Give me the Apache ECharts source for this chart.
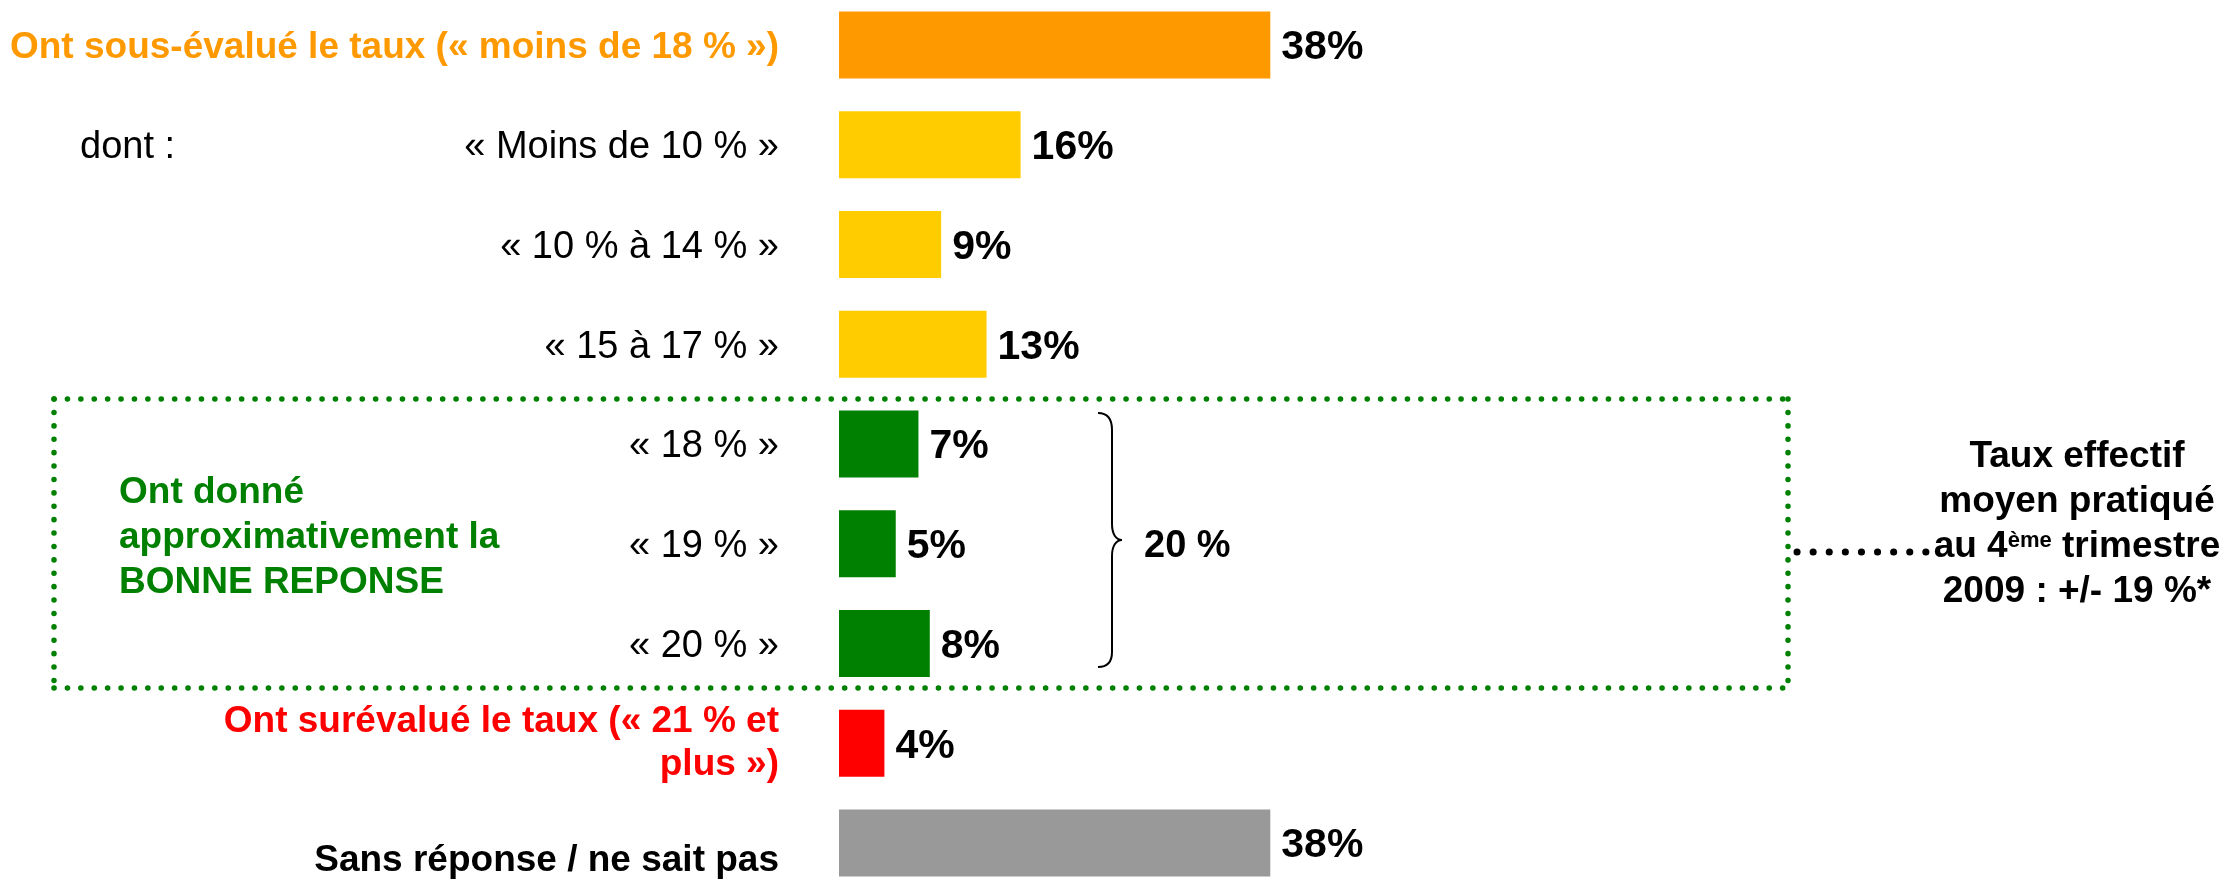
<!DOCTYPE html>
<html>
<head>
<meta charset="utf-8">
<script src="https://cdn.jsdelivr.net/npm/echarts@6/dist/echarts.min.js"></script>
<style>
  html, body { margin: 0; padding: 0; background: #fff; }
  #chart { width: 2230px; height: 879px; }
</style>
</head>
<body>
<div id="chart"></div>
<script>
// categories top -> bottom
const categories = [
  'Ont sous-évalué le taux (« moins de 18 % »)',
  '« Moins de 10 % »',
  '« 10 % à 14 % »',
  '« 15 à 17 % »',
  '« 18 % »',
  '« 19 % »',
  '« 20 % »',
  'Ont surévalué le taux (« 21 % et\nplus »)',
  'Sans réponse / ne sait pas'
];
const values = [38, 16, 9, 13, 7, 5, 8, 4, 38];
const barColors = ['#FF9900', '#FFCC00', '#FFCC00', '#FFCC00', '#008000', '#008000', '#008000', '#FF0000', '#999999'];
const labelKinds = ['orange', 'plain', 'plain', 'plain', 'plain', 'plain', 'plain', 'red', 'bold'];

const dontText = 'dont :';
const groupTitle = ['Ont donné', 'approximativement la', 'BONNE REPONSE'];
const groupTotal = '20 %';
const noteLines = ['Taux effectif', 'moyen pratiqué', ['au 4', 'ème', ' trimestre'], '2009 : +/- 19 %*'];

const FONT = '"Liberation Sans", Arial, sans-serif';
const FS = 37;
const GREEN = '#008000';

let chart = echarts.init(document.getElementById('chart'));

const rich = {
  orange: { color: '#FF9900', fontWeight: 'bold', fontSize: FS, fontFamily: FONT, align: 'right', padding: [6, 0, 0, 0] },
  plain: { color: '#000', fontSize: 38, fontFamily: FONT, align: 'right', padding: [6, 0, 0, 0] },
  red: { color: '#FF0000', fontWeight: 'bold', fontSize: FS, fontFamily: FONT, lineHeight: 43, align: 'right' },
  bold: { color: '#000', fontWeight: 'bold', fontSize: FS, fontFamily: FONT, align: 'right', padding: [36, 0, 0, 0] }
};

const noteRich = {
  b: { color: '#000', fontWeight: 'bold', fontSize: FS, fontFamily: FONT, lineHeight: 45 },
  sup: { color: '#000', fontWeight: 'bold', fontSize: 22, fontFamily: FONT, lineHeight: 45, verticalAlign: 'top', padding: [6, 0, 0, 0] }
};
const noteText = noteLines.map(l => Array.isArray(l)
  ? '{b|' + l[0] + '}{sup|' + l[1] + '}{b|' + l[2] + '}'
  : '{b|' + l + '}').join('\n');

function dotted(x1, y1, x2, y2, color, w, gap) {
  return {
    type: 'line',
    shape: { x1: x1, y1: y1, x2: x2, y2: y2 },
    style: { stroke: color, lineWidth: w, lineDash: [0.1, gap], lineCap: 'round' }
  };
}
function seg(x1, y1, x2, y2) {
  return { type: 'line', shape: { x1: x1, y1: y1, x2: x2, y2: y2 }, style: { stroke: '#000', lineWidth: 2 } };
}
function curve(x1, y1, c1x, c1y, c2x, c2y, x2, y2) {
  return {
    type: 'bezierCurve',
    shape: { x1: x1, y1: y1, cpx1: c1x, cpy1: c1y, cpx2: c2x, cpy2: c2y, x2: x2, y2: y2 },
    style: { stroke: '#000', lineWidth: 2, fill: null }
  };
}

const option = {
  animation: false,
  backgroundColor: '#fff',
  grid: { left: 839, width: 1135, top: -5, height: 898, outerBoundsMode: 'none', containLabel: false },
  xAxis: { type: 'value', min: 0, max: 100, show: false },
  yAxis: {
    type: 'category',
    inverse: true,
    data: categories,
    axisLine: { show: false },
    axisTick: { show: false },
    splitLine: { show: false },
    axisLabel: {
      margin: 60,
      align: 'right',
      formatter: (v, i) => v.split('\n').map(s => '{' + labelKinds[i] + '|' + s + '}').join('\n'),
      rich: rich
    }
  },
  series: [{
    type: 'bar',
    barWidth: 67,
    data: values.map((v, i) => ({ value: v, itemStyle: { color: barColors[i] } })),
    label: {
      show: true,
      position: 'right',
      distance: 11,
      offset: [0, 3],
      formatter: '{c}%',
      color: '#000',
      fontWeight: 'bold',
      fontSize: 41,
      fontFamily: FONT
    }
  }],
  graphic: [
    { type: 'text', left: 80, top: 129, style: { text: dontText, fill: '#000', font: '38px ' + FONT } },
    {
      type: 'text', left: 119, top: 470,
      style: { text: groupTitle.join('\n'), fill: GREEN, font: 'bold ' + FS + 'px ' + FONT, lineHeight: 45 }
    },
    // dotted box
    dotted(54, 399, 1788, 399, GREEN, 5.5, 13.3),
    dotted(54, 688, 1788, 688, GREEN, 5.5, 13.3),
    dotted(54, 399, 54, 688, GREEN, 5.5, 13.3),
    dotted(1788, 399, 1788, 688, GREEN, 5.5, 13.3),
    // leader dots
    dotted(1797, 552, 1929, 552, '#000', 7, 16),
    // brace
    curve(1098, 413, 1108, 413, 1112, 420, 1112, 430),
    seg(1112, 430, 1112, 524),
    curve(1112, 524, 1112, 534, 1116, 540, 1122, 540),
    curve(1122, 540, 1116, 540, 1112, 546, 1112, 556),
    seg(1112, 556, 1112, 652),
    curve(1112, 652, 1112, 661, 1108, 667, 1098, 667),
    {
      type: 'text', left: 1144, top: 528,
      style: { text: groupTotal, fill: '#000', font: 'bold 38px ' + FONT }
    },
    {
      type: 'text',
      style: { x: 2077, y: 524, text: noteText, align: 'center', verticalAlign: 'middle', rich: noteRich }
    }
  ]
};

chart.setOption(option);
window.addEventListener('resize', () => { chart.resize(); });
</script>
</body>
</html>
